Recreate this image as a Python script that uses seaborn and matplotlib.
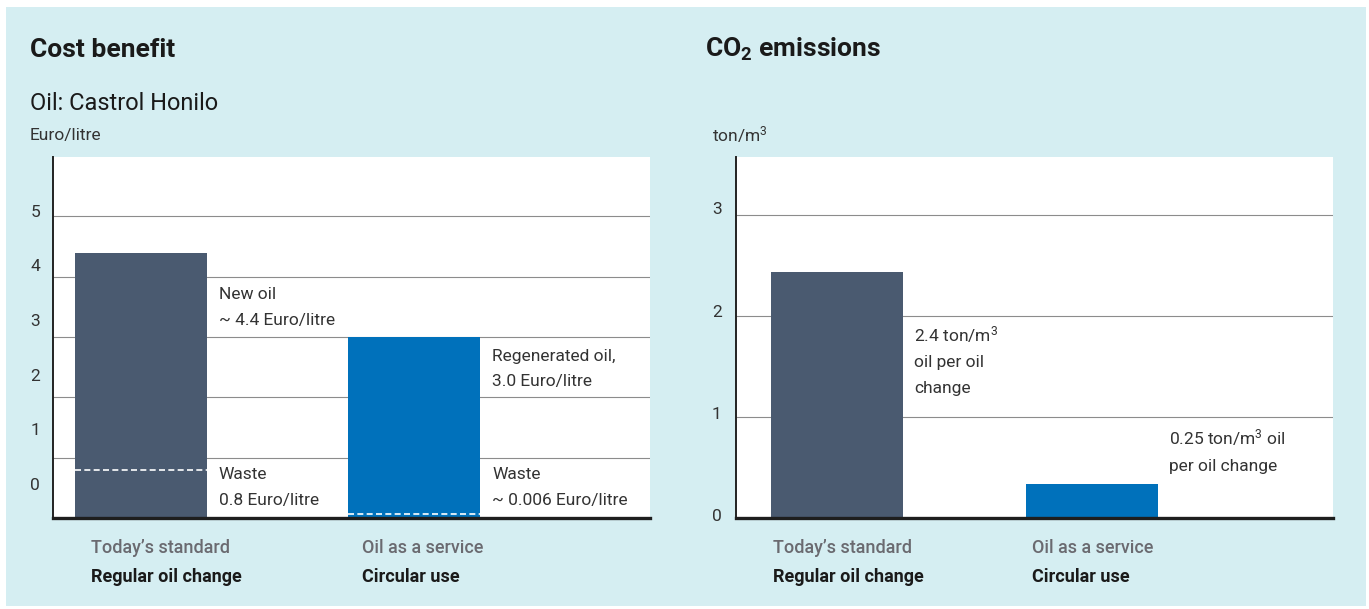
import matplotlib
matplotlib.use("Agg")
import matplotlib.pyplot as plt
import seaborn as sns
import pandas as pd
from matplotlib.patches import Rectangle
from matplotlib.transforms import blended_transform_factory, offset_copy

# ---------------- data ----------------
categories = ["Today\u2019s standard", "Oil as a service"]
subtitles = ["Regular oil change", "Circular use"]
cost_values = [4.4, 3.0]          # Euro/litre
waste_values = [0.8, 0.006]       # Euro/litre
co2_values = [2.44, 0.34]         # ton/m3 (bar heights as drawn)
cost_ticks = [0, 1, 2, 3, 4, 5]
co2_ticks = [0, 1, 2, 3]
cost_notes = [["New oil", "~ 4.4 Euro/litre"], ["Regenerated oil,", "3.0 Euro/litre"]]
waste_notes = [["Waste", "0.8 Euro/litre"], ["Waste", "~ 0.006 Euro/litre"]]
co2_notes = [["2.4 ton/m$^{3}$", "oil per oil", "change"],
             ["0.25 ton/m$^{3}$ oil", "per oil change"]]

# ---------------- style ----------------
sns.set_theme(style="white")
plt.rcParams["font.family"] = ["Roboto", "DejaVu Sans"]
plt.rcParams["mathtext.default"] = "regular"

DARK = "#4a5a70"
BLUE = "#0071bb"
BG = "#d5eef2"
TXT = "#333333"
GRID = "#8c8c8c"

W, H = 1369, 609
fig = plt.figure(figsize=(W / 100, H / 100), dpi=100)
fig.patch.set_facecolor("white")
fig.patches.append(Rectangle((6 / W, 3 / H), (1366 - 6) / W, (606 - 7) / H,
                             transform=fig.transFigure, facecolor=BG,
                             edgecolor="none", zorder=-10))

ax1 = fig.add_axes([53 / W, (H - 518) / H, 597 / W, 361 / H])
ax2 = fig.add_axes([736 / W, (H - 518) / H, 597 / W, 361 / H])

df_cost = pd.DataFrame({"cat": categories, "val": cost_values})
df_co2 = pd.DataFrame({"cat": categories, "val": co2_values})

sns.barplot(data=df_cost, x="cat", y="val", hue="cat", palette=[DARK, BLUE],
            width=0.4835, saturation=1, legend=False, ax=ax1, zorder=2,
            linewidth=0)
sns.barplot(data=df_co2, x="cat", y="val", hue="cat", palette=[DARK, BLUE],
            width=0.518, saturation=1, legend=False, ax=ax2, zorder=2,
            linewidth=0)

ax1.set_xlim(-0.322, 1.864)
ax1.set_ylim(0, 5.985)
ax2.set_xlim(-0.396, 1.945)
ax2.set_ylim(0, 3.58)

for ax, ticks in ((ax1, cost_ticks), (ax2, co2_ticks)):
    ax.set_facecolor("white")
    ax.set_xlabel("")
    ax.set_ylabel("")
    ax.set_yticks(ticks)
    ax.yaxis.grid(True, color=GRID, linewidth=0.8)
    ax.xaxis.grid(False)
    ax.set_axisbelow(True)
    for s in ("top", "right"):
        ax.spines[s].set_visible(False)
    ax.spines["left"].set_color("#222222")
    ax.spines["left"].set_linewidth(1.4)
    ax.spines["bottom"].set_color("#1e1e1e")
    ax.spines["bottom"].set_linewidth(2.4)
    ax.spines["bottom"].set_zorder(4)
    ax.tick_params(axis="x", length=0, labelbottom=False)
    ax.tick_params(axis="y", length=3, width=1.5, color="#222222",
                   direction="out", labelsize=12.5, labelcolor=TXT, pad=8)

# left chart: tick labels sit offset from grid lines in the reference
ax1.tick_params(axis="y", labelleft=False)
lbl_tr = blended_transform_factory(ax1.transAxes, ax1.transData)
for v in cost_ticks:
    ax1.text(-0.03, v * 0.906 + 0.54, str(v), transform=lbl_tr, ha="center",
             va="center", fontsize=12.5, color=TXT)

# right chart: labels sit slightly above their grid lines
ax2.tick_params(axis="y", labelleft=False)
lbl_tr2 = blended_transform_factory(ax2.transAxes, ax2.transData)
for v in co2_ticks:
    ax2.text(-0.032, v * 1.015 + 0.01, str(v), transform=lbl_tr2, ha="center",
             va="center", fontsize=12.5, color=TXT)

# dashed waste lines across the bars
for p, w in zip(ax1.patches, waste_values):
    yv = max(w, 0.06)
    ax1.hlines(yv, p.get_x(), p.get_x() + p.get_width(), colors="white",
               linestyles=(0, (3.6, 2.0)), linewidth=1.2, zorder=3)

# notes beside bars
def notes(ax, patches, lines_list, baselines_list, dx):
    for p, lines, bases in zip(patches, lines_list, baselines_list):
        tr = offset_copy(ax.transData, fig=fig, x=dx, y=0, units="dots")
        for t, b in zip(lines, bases):
            ax.text(p.get_x() + p.get_width(), b, t, transform=tr, ha="left",
                    va="baseline", fontsize=12.5, color=TXT)

notes(ax1, ax1.patches, cost_notes, [[3.63, 3.20], [2.61, 2.19]], 12)
notes(ax1, ax1.patches, waste_notes, [[0.654, 0.22], [0.654, 0.22]], 12)
notes(ax2, ax2.patches, co2_notes, [[1.748, 1.50, 1.241], [0.725, 0.467]], 11)

# category labels under the bars
def cat_labels(ax, dxs):
    tr0 = blended_transform_factory(ax.transData, ax.transAxes)
    for p, c, s, dx in zip(ax.patches, categories, subtitles, dxs):
        tr = offset_copy(tr0, fig=fig, x=dx, y=0, units="dots")
        ax.text(p.get_x(), -0.083, c, transform=tr, ha="left", va="center",
                fontsize=13, fontweight="medium", color="#6a6a70")
        ax.text(p.get_x(), -0.163, s, transform=tr, ha="left", va="center",
                fontsize=13, fontweight="bold", color="#1a1a1a")

cat_labels(ax1, [16, 14])
cat_labels(ax2, [2, 6])

# titles
fig.text(30 / W, (H - 57) / H, "Cost benefit", fontsize=19, fontweight="bold",
         color="#1a1a1a", va="baseline", ha="left")
fig.text(30 / W, (H - 110) / H, "Oil: Castrol Honilo", fontsize=17,
         color="#1a1a1a", va="baseline", ha="left")
fig.text(30 / W, (H - 140) / H, "Euro/litre", fontsize=12.5, color=TXT,
         va="baseline", ha="left")
fig.text(705 / W, (H - 57) / H, "CO$_2$ emissions", fontsize=19,
         fontweight="bold", color="#1a1a1a", va="baseline", ha="left")
fig.text(712 / W, (H - 141) / H, "ton/m$^{3}$", fontsize=12.5, color=TXT,
         va="baseline", ha="left")

fig.savefig("out.png", dpi=100)
